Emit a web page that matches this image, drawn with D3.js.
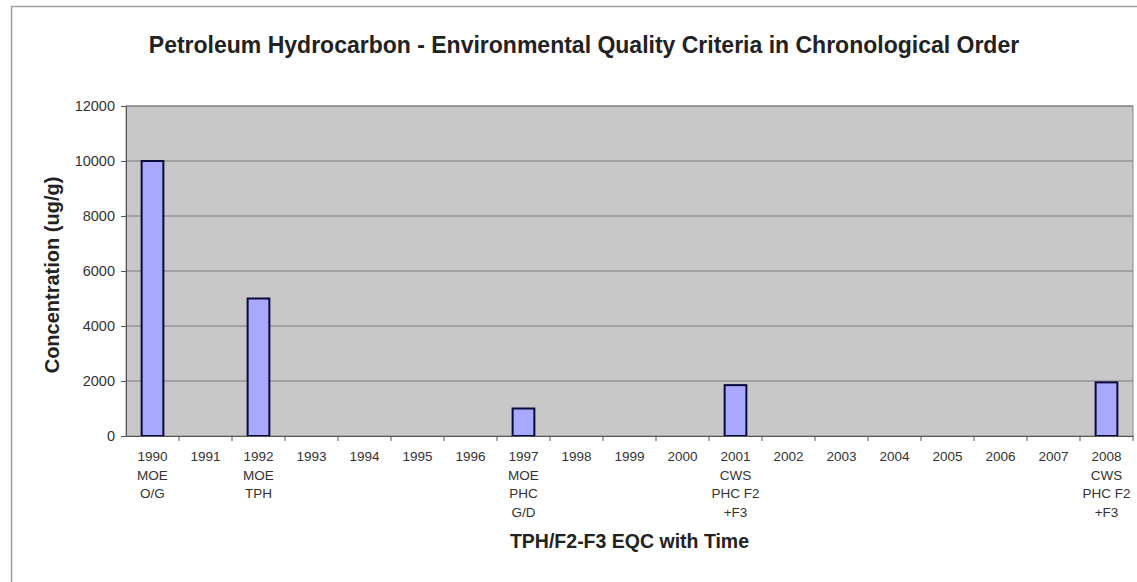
<!DOCTYPE html>
<html>
<head>
<meta charset="utf-8">
<script src="https://cdn.jsdelivr.net/npm/d3@7"></script>
<style>
  body { margin: 0; background: #fff; }
  svg { display: block; font-family: Arial, "Liberation Sans", sans-serif; }
</style>
</head>
<body>
<div id="chart"></div>
<script>
const years = ["1990","1991","1992","1993","1994","1995","1996","1997","1998","1999","2000","2001","2002","2003","2004","2005","2006","2007","2008"]
const subLabels = {
  "1990": ["MOE", "O/G"],
  "1992": ["MOE", "TPH"],
  "1997": ["MOE", "PHC", "G/D"],
  "2001": ["CWS", "PHC F2", "+F3"],
  "2008": ["CWS", "PHC F2", "+F3"]
}
const values = [10000, 0, 5000, 0, 0, 0, 0, 1000, 0, 0, 0, 1850, 0, 0, 0, 0, 0, 0, 1950]
const yTicks = [0, 2000, 4000, 6000, 8000, 10000, 12000]

const width = 1137, height = 582
const margin = {top: 106, right: 4, bottom: 146, left: 126}

const svg = d3.select("#chart").append("svg")
    .attr("width", width)
    .attr("height", height)

// outer chart border
svg.append("rect")
    .attr("x", 11.5).attr("y", 6.5)
    .attr("width", width + 20).attr("height", height + 20)
    .attr("fill", "#fff")
    .attr("stroke", "#a0a0a0")
    .attr("stroke-width", 1.5)

const x = d3.scaleBand()
    .domain(years)
    .range([margin.left, width - margin.right])
    .paddingInner(0.59)
    .paddingOuter(0.295)

const xb = d3.scaleBand()
    .domain(years)
    .range([margin.left, width - margin.right])

const y = d3.scaleLinear()
    .domain([0, 12000])
    .range([height - margin.bottom, margin.top])

// plot area
svg.append("rect")
    .attr("x", margin.left).attr("y", margin.top)
    .attr("width", width - margin.right - margin.left)
    .attr("height", height - margin.bottom - margin.top)
    .attr("fill", "#c8c8c8")
    .attr("stroke", "#8a8a8a")

// gridlines
svg.append("g")
    .selectAll("line")
    .data(yTicks.slice(1))
    .join("line")
    .attr("x1", margin.left).attr("x2", width - margin.right)
    .attr("y1", d => y(d)).attr("y2", d => y(d))
    .attr("stroke", "#7a7a7a")

// bars
svg.append("g")
    .selectAll("rect")
    .data(years.map((yr, i) => ({yr, v: values[i]})).filter(d => d.v > 0))
    .join("rect")
    .attr("x", d => x(d.yr))
    .attr("y", d => y(d.v))
    .attr("width", x.bandwidth())
    .attr("height", d => y(0) - y(d.v))
    .attr("fill", "#a8a8ff")
    .attr("stroke", "#0a0a3a")
    .attr("stroke-width", 2)

// y axis
const yAxis = svg.append("g")
    .attr("transform", `translate(${margin.left},0)`)
    .call(d3.axisLeft(y).tickValues(yTicks).tickSize(5).tickPadding(6).tickFormat(d3.format("d")))
yAxis.select(".domain").attr("stroke", "#555")
yAxis.selectAll(".tick line").attr("stroke", "#555")
yAxis.selectAll("text").attr("font-size", 14.5).attr("fill", "#333").attr("font-family", "Arial, sans-serif")

// x axis
const xAxis = svg.append("g")
    .attr("transform", `translate(0,${y(0)})`)
    .call(d3.axisBottom(xb).tickSize(0).tickFormat(""))
xAxis.select(".domain").attr("stroke", "#555")
xAxis.selectAll(".tick").remove()

svg.append("g")
    .selectAll("line")
    .data(years)
    .join("line")
    .attr("x1", d => xb(d) + xb.bandwidth()).attr("x2", d => xb(d) + xb.bandwidth())
    .attr("y1", y(0)).attr("y2", y(0) + 5)
    .attr("stroke", "#555")

const xLabels = svg.append("g")
    .selectAll("text")
    .data(years)
    .join("text")
    .attr("x", d => xb(d) + xb.bandwidth() / 2)
    .attr("y", y(0) + 25)
    .attr("text-anchor", "middle")
    .attr("font-size", 13.5)
    .attr("fill", "#333")

xLabels.selectAll("tspan")
    .data(d => [d].concat(subLabels[d] || []))
    .join("tspan")
    .attr("x", function() { return this.parentNode.getAttribute("x") })
    .attr("dy", (d, i) => i === 0 ? 0 : 18.5)
    .text(d => d)

// title
svg.append("text")
    .attr("x", 584).attr("y", 53)
    .attr("text-anchor", "middle")
    .attr("font-size", 23)
    .attr("font-weight", "bold")
    .attr("fill", "#222")
    .text("Petroleum Hydrocarbon - Environmental Quality Criteria in Chronological Order")

// axis titles
svg.append("text")
    .attr("x", (margin.left + width - margin.right) / 2)
    .attr("y", 548)
    .attr("text-anchor", "middle")
    .attr("font-size", 19.5)
    .attr("font-weight", "bold")
    .attr("fill", "#222")
    .text("TPH/F2-F3 EQC with Time")

svg.append("text")
    .attr("transform", `translate(59,275) rotate(-90)`)
    .attr("text-anchor", "middle")
    .attr("font-size", 20)
    .attr("font-weight", "bold")
    .attr("fill", "#222")
    .text("Concentration (ug/g)")
</script>
</body>
</html>
